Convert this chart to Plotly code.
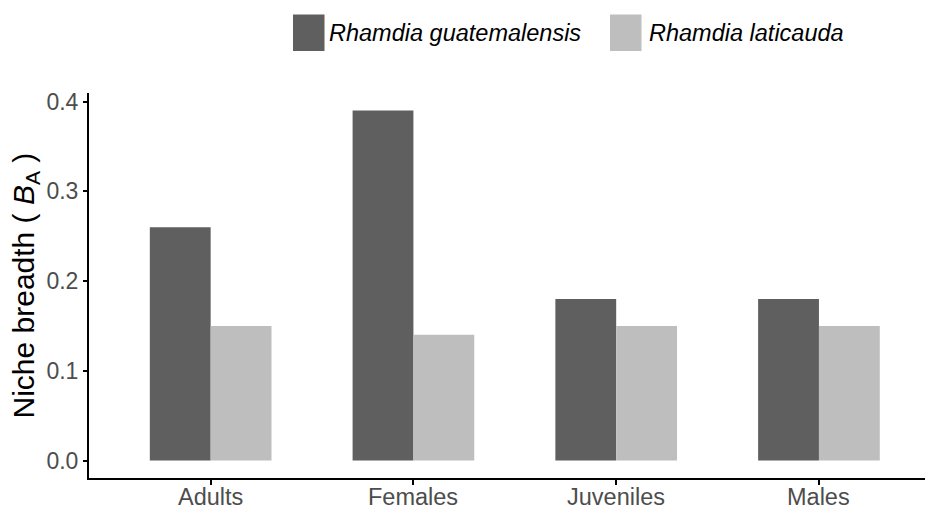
import plotly.graph_objects as go

categories = ["Adults", "Females", "Juveniles", "Males"]
guatemalensis = [0.26, 0.39, 0.18, 0.18]
laticauda = [0.15, 0.14, 0.15, 0.15]
series_names = ["Rhamdia guatemalensis", "Rhamdia laticauda"]
colors = ["#5F5F5F", "#BEBEBE"]
y_ticks = [0.0, 0.1, 0.2, 0.3, 0.4]
y_tick_labels = ["0.0", "0.1", "0.2", "0.3", "0.4"]

W, H = 925, 511
L, R, T, B = 89, 0, 93, 33

fig = go.Figure()
for name, vals, col in zip(series_names, [guatemalensis, laticauda], colors):
    fig.add_trace(go.Bar(x=categories, y=vals, name=name, marker=dict(color=col, line=dict(width=0)),
                         showlegend=False))

font_family = "Liberation Sans, Arial, sans-serif"

fig.update_layout(
    width=W, height=H,
    margin=dict(l=L, r=R, t=T, b=B, autoexpand=False),
    paper_bgcolor="white", plot_bgcolor="white",
    barmode="group", bargap=0.4, bargroupgap=0,
    xaxis=dict(range=[-0.6, 3.523], showline=True, linecolor="black", linewidth=2,
               ticks="outside", ticklen=5, tickwidth=1.5, tickcolor="black",
               showticklabels=False, automargin=False,
               showgrid=False, zeroline=False),
    yaxis=dict(range=[-0.0195, 0.4095], showline=True, linecolor="black", linewidth=2,
               ticks="outside", ticklen=4, tickwidth=1.5, tickcolor="black",
               tickvals=y_ticks, ticktext=y_tick_labels, automargin=False,
               tickfont=dict(family=font_family, size=23, color="#4D4D4D"),
               showgrid=False, zeroline=False),
)

# x tick labels placed via the category axis
for c in categories:
    fig.add_annotation(x=c, xref="x", yref="paper", y=0, yshift=-5, borderpad=0,
                       text=c, showarrow=False, xanchor="center", yanchor="top",
                       font=dict(family=font_family, size=23.5, color="#4D4D4D"))

# y-axis title
fig.add_annotation(xref="paper", yref="paper", x=-(L - 25) / (W - L - R), y=0.5,
                   text="Niche breadth ( <i>B</i><sub>A</sub> )", textangle=-90,
                   showarrow=False, xanchor="center", yanchor="middle",
                   font=dict(family=font_family, size=30, color="black"))

# manual legend
pw = W - L - R
ph = H - T - B
def px_x(x):
    return (x - L) / pw
def px_y(y):
    return (H - B - y) / ph

legend_items = [(293, 327), (610, 647)]
for (kx, tx), name, col in zip(legend_items, series_names, colors):
    fig.add_shape(type="rect", xref="paper", yref="paper",
                  x0=px_x(kx), x1=px_x(kx + 31.5), y0=px_y(51), y1=px_y(14.5),
                  fillcolor=col, line=dict(width=0))
    fig.add_annotation(xref="paper", yref="paper", x=px_x(tx), y=px_y(33),
                       text=f"<i>{name}</i>", showarrow=False, xanchor="left", yanchor="middle",
                       font=dict(family=font_family, size=23.5, color="black"))

fig.write_html("out.html", config={"displayModeBar": False},
               post_script="document.body.style.margin='0';document.body.style.padding='0';window.dispatchEvent(new Event('resize'));")
